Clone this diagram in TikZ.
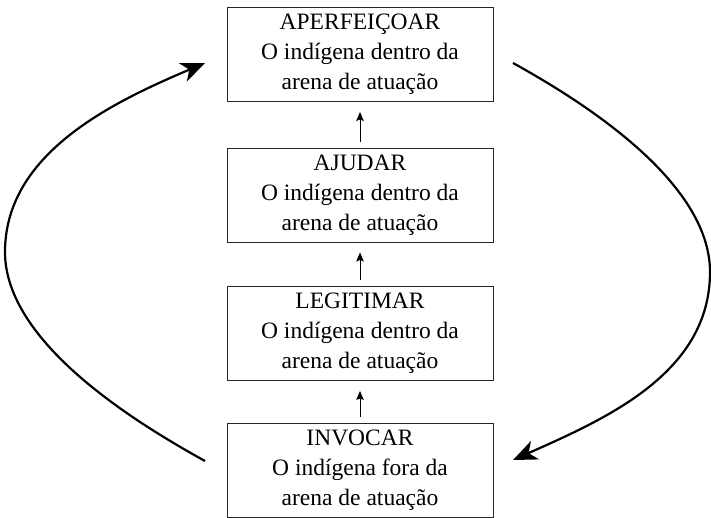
\documentclass[tikz,border=0pt]{standalone}
\usepackage{fontspec}
\setmainfont{Liberation Serif}
\usetikzlibrary{arrows.meta}
\begin{document}
\begin{tikzpicture}[x=1pt,y=1pt,
  stagebox/.style={draw=black!85, line width=0.9pt, minimum width=266pt, minimum height=94pt,
    align=center, inner sep=0pt, font=\fontsize{23.5}{30}\selectfont},
  uparrow/.style={line width=1pt, -{Stealth[length=9pt,width=7.5pt,inset=1.5pt]}, shorten <=6pt, shorten >=10pt},
  cyclearrow/.style={line width=2.2pt, -{Stealth[length=24pt,width=20pt,inset=7pt]}}]
\useasboundingbox (0,0) rectangle (711,517);
\node[stagebox] (b1) at (360,462.5) {APERFEIÇOAR\\O indígena dentro da\\arena de atuação};
\node[stagebox] (b2) at (360,322) {AJUDAR\\O indígena dentro da\\arena de atuação};
\node[stagebox] (b3) at (360,183.5) {LEGITIMAR\\O indígena dentro da\\arena de atuação};
\node[stagebox] (b4) at (360,47) {INVOCAR\\O indígena fora da\\arena de atuação};
\draw[uparrow] (b4.north) -- (b3.south);
\draw[uparrow] (b3.north) -- (b2.south);
\draw[uparrow] (b2.north) -- (b1.south);
\coordinate (ls) at (205,56);
\coordinate (lm) at (5,265);
\coordinate (le) at (205,454);
\coordinate (rs) at (513,454);
\coordinate (rm) at (710,245);
\coordinate (re) at (513,57);
\draw[cyclearrow] (ls) .. controls (138.5,92.8) and (5,173.5) .. (lm)
  to[out=90,in=203,looseness=0.92] (le);
\draw[cyclearrow] (rs) .. controls (579.5,417.2) and (710,336.5) .. (rm)
  to[out=-90,in=24,looseness=0.95] (re);
\end{tikzpicture}
\end{document}
